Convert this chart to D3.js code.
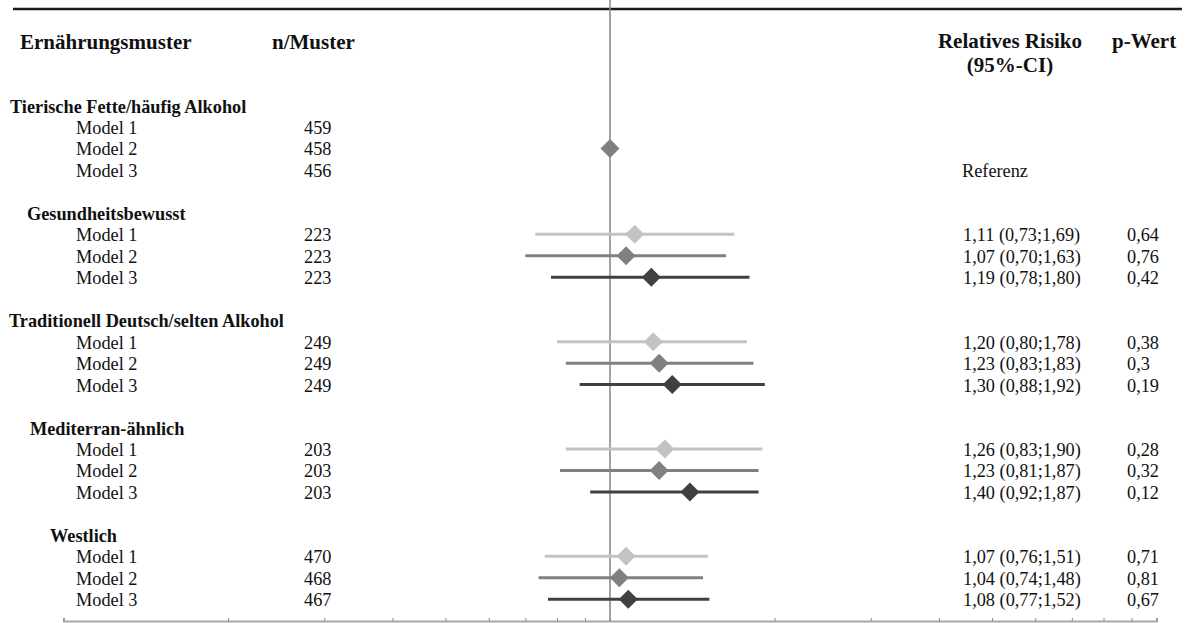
<!DOCTYPE html>
<html>
<head>
<meta charset="utf-8">
<script src="https://cdn.jsdelivr.net/npm/d3@7"></script>
<style>
  html, body { margin: 0; padding: 0; background: #fff; }
  svg { display: block; }
  text { font-family: "Liberation Serif", "Times New Roman", serif; fill: #111; }
</style>
</head>
<body>
<svg id="chart" width="1188" height="623"></svg>
<script>
// Dietary patterns and adjustment models
const groups = [
  "Tierische Fette/häufig Alkohol",
  "Gesundheitsbewusst",
  "Traditionell Deutsch/selten Alkohol",
  "Mediterran-ähnlich",
  "Westlich"
];
const models = ["Model 1", "Model 2", "Model 3"];

// number of participants per pattern and model
const nPerPattern = [
  [459, 458, 456],
  [223, 223, 223],
  [249, 249, 249],
  [203, 203, 203],
  [470, 468, 467]
];

// relative risk with 95% confidence interval (first pattern is the reference)
const relRisk = [
  [null, 1.00, null],
  [1.11, 1.07, 1.19],
  [1.20, 1.23, 1.30],
  [1.26, 1.23, 1.40],
  [1.07, 1.04, 1.08]
];
const ciLower = [
  [null, null, null],
  [0.73, 0.70, 0.78],
  [0.80, 0.83, 0.88],
  [0.83, 0.81, 0.92],
  [0.76, 0.74, 0.77]
];
const ciUpper = [
  [null, null, null],
  [1.69, 1.63, 1.80],
  [1.78, 1.83, 1.92],
  [1.90, 1.87, 1.87],
  [1.51, 1.48, 1.52]
];
const pValues = [
  [null, null, null],
  ["0,64", "0,76", "0,42"],
  ["0,38", "0,3", "0,19"],
  ["0,28", "0,32", "0,12"],
  ["0,71", "0,81", "0,67"]
];
const referenceLabel = "Referenz";
const axisTicks = [0.1,0.2,0.3,0.4,0.5,0.6,0.7,0.8,0.9,1,2,3,4,5,6,7,8,9,10];

// ---- layout ----
const svg = d3.select("#chart");
const modelColors = ["#c3c3c3", "#808080", "#404040"];
const groupIndent = [10, 27, 9, 30, 50];
const col = { model: 76, n: 304, rr: 963, p: 1127 };
const axisY = 621;

const x = d3.scaleLog().domain([0.1, 10]).range([63.5, 1156.5]);
const rowY = d3.scaleLinear().domain([0, 1]).range([105.5, 126.97]);
const fmt = v => d3.format(".2f")(v).replace(".", ",");

// top rule
svg.append("line")
  .attr("x1", 13).attr("x2", 1182).attr("y1", 9).attr("y2", 9)
  .attr("stroke", "#1a1a1a").attr("stroke-width", 2.5);

// column headers
const hdr = svg.append("g").style("font-weight", "bold").style("font-size", "21px");
hdr.append("text").attr("x", 20).attr("y", 49).text("Ernährungsmuster");
hdr.append("text").attr("x", 272).attr("y", 49).text("n/Muster");
hdr.append("text").attr("x", 1010).attr("y", 48).attr("text-anchor", "middle").text("Relatives Risiko");
hdr.append("text").attr("x", 1010).attr("y", 72).attr("text-anchor", "middle").text("(95%-CI)");
hdr.append("text").attr("x", 1112).attr("y", 48).text("p-Wert");

// bottom axis (log scale)
const axis = svg.append("g")
  .attr("transform", `translate(0,${axisY})`)
  .call(d3.axisTop(x).tickValues(axisTicks).tickSize(3).tickFormat(""));
axis.select(".domain").attr("stroke", "#a8a8a8").attr("stroke-width", 2);
axis.selectAll(".tick line").attr("stroke", "#8a8a8a").attr("stroke-width", 1);

// line of no effect
svg.append("line")
  .attr("x1", x(1)).attr("x2", x(1)).attr("y1", 0).attr("y2", axisY)
  .attr("stroke", "#8c8c8c").attr("stroke-width", 1.6);

const body = svg.append("g").style("font-size", "18.3px");

groups.forEach((g, gi) => {
  const base = gi * 5;
  body.append("text")
    .attr("x", groupIndent[gi]).attr("y", rowY(base) + 7)
    .style("font-weight", "bold").text(g);

  models.forEach((m, mi) => {
    const y = rowY(base + mi + 1);
    body.append("text").attr("x", col.model).attr("y", y + 7).text(m);
    body.append("text").attr("x", col.n).attr("y", y + 7).text(nPerPattern[gi][mi]);

    const lo = ciLower[gi][mi], hi = ciUpper[gi][mi], rr = relRisk[gi][mi];
    if (lo != null && hi != null) {
      svg.append("line")
        .attr("x1", x(lo)).attr("x2", x(hi)).attr("y1", y).attr("y2", y)
        .attr("stroke", modelColors[mi]).attr("stroke-width", 3);
    }
    if (rr != null) {
      const r = 9.5;
      svg.append("path")
        .attr("d", `M${x(rr)},${y - r}L${x(rr) + r},${y}L${x(rr)},${y + r}L${x(rr) - r},${y}Z`)
        .attr("fill", modelColors[mi]);
    }
    if (lo != null && hi != null) {
      body.append("text").attr("x", col.rr).attr("y", y + 7)
        .text(`${fmt(rr)} (${fmt(lo)};${fmt(hi)})`);
      body.append("text").attr("x", col.p).attr("y", y + 7).text(pValues[gi][mi]);
    }
  });
});

// reference label for the first pattern
body.append("text").attr("x", col.rr - 1).attr("y", rowY(3) + 7).text(referenceLabel);
</script>
</body>
</html>
